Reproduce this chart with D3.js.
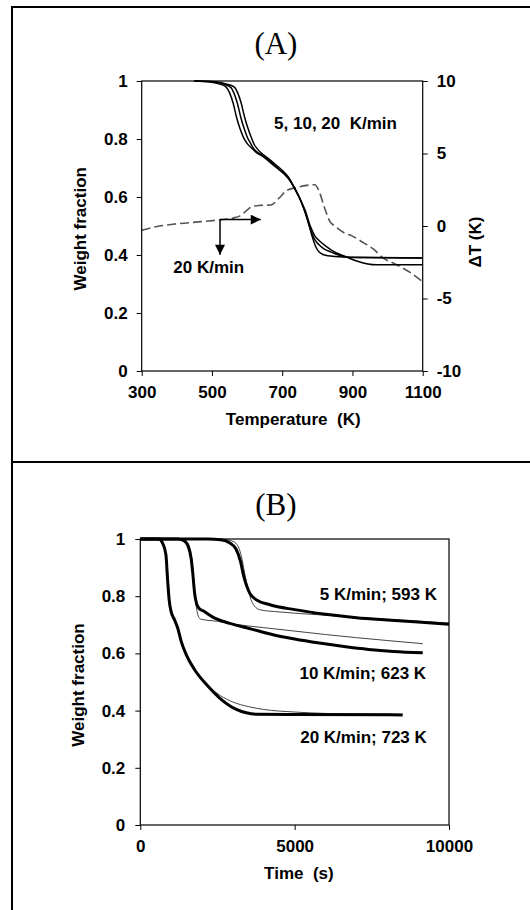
<!DOCTYPE html>
<html>
<head>
<meta charset="utf-8">
<title>TGA panels</title>
<script src="https://cdn.jsdelivr.net/npm/d3@7"></script>
<style>
  body { margin: 0; background: #fff; }
  svg text { font-family: "Liberation Sans", Arial, sans-serif; font-weight: bold; font-size: 17px; fill: #000; }
  svg text.panel { font-family: "Liberation Serif", "Times New Roman", serif; font-weight: normal; font-size: 31px; }
  .frame { fill: none; stroke: #000; stroke-width: 1.2; }
  .tick line { stroke: #000; }
</style>
</head>
<body>
<svg id="fig" width="530" height="910"></svg>
<script>
// ---- panel A : weight fraction vs temperature, 3 heating rates + DTA
const tg5 = [[450,1],[490,0.997],[520,0.99],[540,0.98],[550,0.96],[560,0.925],[570,0.875],[580,0.835],[590,0.805],[600,0.785],[612,0.77],[625,0.755],[645,0.74],[665,0.72],[685,0.70],[705,0.68],[722,0.657],[735,0.63],[750,0.595],[763,0.555],[775,0.51],[785,0.465],[795,0.43],[805,0.41],[820,0.40],[850,0.395],[900,0.392],[1100,0.39]];
const tg10 = [[450,1],[500,0.997],[530,0.99],[552,0.98],[562,0.96],[572,0.925],[582,0.875],[592,0.835],[601,0.805],[610,0.785],[620,0.765],[632,0.752],[650,0.737],[670,0.718],[690,0.697],[710,0.675],[725,0.652],[737,0.628],[752,0.59],[766,0.545],[780,0.49],[792,0.455],[805,0.435],[820,0.42],[840,0.41],[865,0.398],[895,0.391],[1100,0.39]];
const tg20 = [[450,1],[510,0.997],[540,0.99],[563,0.98],[573,0.96],[583,0.925],[593,0.875],[603,0.835],[612,0.805],[620,0.782],[630,0.765],[642,0.75],[660,0.733],[680,0.713],[700,0.692],[718,0.668],[735,0.63],[750,0.595],[765,0.555],[780,0.5],[792,0.468],[805,0.45],[825,0.43],[850,0.41],[880,0.395],[910,0.38],[940,0.37],[970,0.366],[1100,0.366]];
const dta20 = [[300,-0.3],[340,-0.05],[400,0.15],[470,0.3],[520,0.42],[560,0.55],[580,0.7],[600,1.1],[615,1.35],[635,1.42],[668,1.45],[690,1.9],[713,2.45],[740,2.65],[770,2.8],[793,2.85],[805,2.4],[820,1.3],[836,0.3],[850,0.0],[875,-0.45],[900,-0.7],[931,-1.15],[960,-1.6],[987,-2.2],[1020,-2.6],[1064,-3.2],[1100,-3.85]];
const tempTicks = [300, 500, 700, 900, 1100];
const wfTicks = [0, 0.2, 0.4, 0.6, 0.8, 1];
const dtTicks = [-10, -5, 0, 5, 10];
// arrow: corner, tip down, tip right  (T, weight fraction)
const arrowCorner = [523, 0.522];
const arrowDownTip = [523, 0.401];
const arrowRightTip = [639, 0.522];
const notesA = [["5, 10, 20  K/min", 677, 0.853], ["20 K/min", 390, 0.358]];

// ---- panel B : isothermal runs, measured (thick) and model (thin)
const iso5 = [[0,1],[2200,1],[2600,0.997],[2900,0.986],[3100,0.965],[3250,0.92],[3350,0.87],[3450,0.835],[3550,0.81],[3750,0.788],[4200,0.77],[5000,0.753],[6000,0.737],[7000,0.725],[8000,0.717],[9000,0.71],[10000,0.702]];
const iso5fit = [[0,1],[2500,1],[2900,0.995],[3100,0.985],[3250,0.95],[3400,0.87],[3550,0.8],[3700,0.765],[3900,0.752],[4500,0.745],[5500,0.737],[6500,0.73],[7500,0.722],[8500,0.716],[10000,0.706]];
const iso10 = [[0,1],[1200,1],[1400,0.995],[1550,0.975],[1650,0.93],[1700,0.88],[1760,0.81],[1820,0.775],[1900,0.758],[2050,0.748],[2350,0.727],[2900,0.705],[3600,0.685],[4300,0.665],[5000,0.65],[5800,0.636],[6600,0.624],[7400,0.614],[8200,0.607],[9150,0.602]];
const iso10fit = [[0,1],[1300,1],[1500,0.99],[1620,0.96],[1700,0.9],[1760,0.82],[1820,0.76],[1880,0.73],[1950,0.72],[2500,0.712],[3000,0.703],[4000,0.69],[5000,0.678],[6000,0.666],[7000,0.655],[8000,0.645],[9150,0.634]];
const iso20 = [[0,1],[600,1],[720,0.986],[830,0.945],[887,0.852],[940,0.782],[996,0.747],[1106,0.718],[1215,0.688],[1325,0.642],[1490,0.595],[1760,0.543],[2150,0.49],[2580,0.443],[3130,0.403],[3790,0.387],[5000,0.386],[8500,0.385]];
const iso20fit = [[0,1],[600,1],[700,0.99],[800,0.96],[850,0.92],[900,0.86],[950,0.79],[1000,0.75],[1100,0.715],[1200,0.685],[1300,0.65],[1500,0.595],[1750,0.545],[2000,0.51],[2300,0.476],[2600,0.452],[3000,0.43],[3500,0.414],[4000,0.404],[5000,0.395],[6000,0.39],[7000,0.388],[8500,0.387]];
const timeTicks = [0, 5000, 10000];
const notesB = [["5 K/min; 593 K", 5815, 0.805], ["10 K/min; 623 K", 5157, 0.528], ["20 K/min; 723 K", 5180, 0.306]];

const svg = d3.select("#fig");
svg.append("rect").attr("width", 530).attr("height", 910).attr("fill", "#fff");

// outer box + divider
svg.append("path")
  .attr("d", "M12,910V7H530M12,462H530")
  .attr("fill", "none").attr("stroke", "#000").attr("stroke-width", 2);

const fmtW = d => (d === 0 || d === 1) ? String(d) : d.toFixed(1);

function addFrame(g, x, y) {
  g.append("rect").attr("class", "frame")
    .attr("x", x.range()[0]).attr("y", y.range()[1])
    .attr("width", x.range()[1] - x.range()[0])
    .attr("height", y.range()[0] - y.range()[1]);
}

// ---------- panel A
const xA = d3.scaleLinear().domain([300, 1100]).range([141.7, 422.7]);
const yA = d3.scaleLinear().domain([0, 1]).range([371, 81]);
const y2A = d3.scaleLinear().domain([-10, 10]).range([371, 81]);

const gA = svg.append("g");
gA.append("g").attr("transform", "translate(0,371)")
  .call(d3.axisBottom(xA).tickValues(tempTicks).tickSize(5).tickPadding(10).tickFormat(String))
  .call(g => g.select(".domain").remove());
gA.append("g").attr("transform", "translate(141.7,0)")
  .call(d3.axisLeft(yA).tickValues(wfTicks).tickSize(5).tickPadding(9).tickFormat(fmtW))
  .call(g => g.select(".domain").remove());
gA.append("g").attr("transform", "translate(422.7,0)")
  .call(d3.axisRight(y2A).tickValues(dtTicks).tickSize(5).tickPadding(9).tickFormat(String))
  .call(g => g.select(".domain").remove());
gA.selectAll(".tick text").attr("font-size", null).attr("font-family", null);

const lineA = d3.line().x(d => xA(d[0])).y(d => yA(d[1])).curve(d3.curveMonotoneX);
const lineDT = d3.line().x(d => xA(d[0])).y(d => y2A(d[1])).curve(d3.curveMonotoneX);

gA.append("path").attr("d", lineDT(dta20)).attr("fill", "none")
  .attr("stroke", "#555").attr("stroke-width", 1.6).attr("stroke-dasharray", "9,4");
[tg5, tg10, tg20].forEach(s => {
  gA.append("path").attr("d", lineA(s)).attr("fill", "none")
    .attr("stroke", "#000").attr("stroke-width", 1.5);
});
addFrame(gA, xA, yA);

// arrows
const defs = svg.append("defs");
defs.append("marker").attr("id", "head").attr("viewBox", "0 0 10 10")
  .attr("refX", 10).attr("refY", 5).attr("markerWidth", 7).attr("markerHeight", 7)
  .attr("markerUnits", "userSpaceOnUse").attr("orient", "auto")
  .append("path").attr("d", "M0,0L10,5L0,10Z").attr("fill", "#000");
// bigger head
defs.select("#head").attr("markerWidth", 12).attr("markerHeight", 10);

[arrowDownTip, arrowRightTip].forEach(tip => {
  gA.append("line")
    .attr("x1", xA(arrowCorner[0])).attr("y1", yA(arrowCorner[1]))
    .attr("x2", xA(tip[0])).attr("y2", yA(tip[1]))
    .attr("stroke", "#000").attr("stroke-width", 1.5)
    .attr("marker-end", "url(#head)");
});

notesA.forEach(n => {
  gA.append("text").attr("x", xA(n[1])).attr("y", yA(n[2]))
    .attr("dominant-baseline", "central").style("white-space", "pre").text(n[0]);
});

gA.append("text").attr("class", "panel").attr("x", 275.9).attr("y", 43.2)
  .attr("text-anchor", "middle").attr("dominant-baseline", "central").text("(A)");
gA.append("text").attr("transform", "translate(80.8,228.8) rotate(-90)")
  .attr("text-anchor", "middle").attr("dominant-baseline", "central").text("Weight fraction");
gA.append("text").attr("transform", "translate(475.4,242) rotate(-90)")
  .attr("text-anchor", "middle").attr("dominant-baseline", "central").text("\u0394T (K)");
gA.append("text").attr("x", 293.2).attr("y", 419.5).style("white-space", "pre")
  .attr("text-anchor", "middle").attr("dominant-baseline", "central").text("Temperature  (K)");

// ---------- panel B
const xB = d3.scaleLinear().domain([0, 10000]).range([140.3, 449]);
const yB = d3.scaleLinear().domain([0, 1]).range([825, 539]);

const gB = svg.append("g");
gB.append("g").attr("transform", "translate(0,825)")
  .call(d3.axisBottom(xB).tickValues(timeTicks).tickSize(5).tickPadding(10).tickFormat(String))
  .call(g => g.select(".domain").remove());
gB.append("g").attr("transform", "translate(140.3,0)")
  .call(d3.axisLeft(yB).tickValues(wfTicks).tickSize(5).tickPadding(10).tickFormat(fmtW))
  .call(g => g.select(".domain").remove());
gB.selectAll(".tick text").attr("font-size", null).attr("font-family", null);

const lineB = d3.line().x(d => xB(d[0])).y(d => yB(d[1])).curve(d3.curveMonotoneX);
[iso5fit, iso10fit, iso20fit].forEach(s => {
  gB.append("path").attr("d", lineB(s)).attr("fill", "none")
    .attr("stroke", "#444").attr("stroke-width", 1);
});
[iso5, iso10, iso20].forEach(s => {
  gB.append("path").attr("d", lineB(s)).attr("fill", "none")
    .attr("stroke", "#000").attr("stroke-width", 3);
});
addFrame(gB, xB, yB);

notesB.forEach(n => {
  gB.append("text").attr("x", xB(n[1])).attr("y", yB(n[2]))
    .attr("dominant-baseline", "central").text(n[0]);
});

gB.append("text").attr("class", "panel").attr("x", 275.9).attr("y", 504.6)
  .attr("text-anchor", "middle").attr("dominant-baseline", "central").text("(B)");
gB.append("text").attr("transform", "translate(78,685) rotate(-90)")
  .attr("text-anchor", "middle").attr("dominant-baseline", "central").text("Weight fraction");
gB.append("text").attr("x", 298.9).attr("y", 873.4).style("white-space", "pre")
  .attr("text-anchor", "middle").attr("dominant-baseline", "central").text("Time  (s)");
</script>
</body>
</html>
